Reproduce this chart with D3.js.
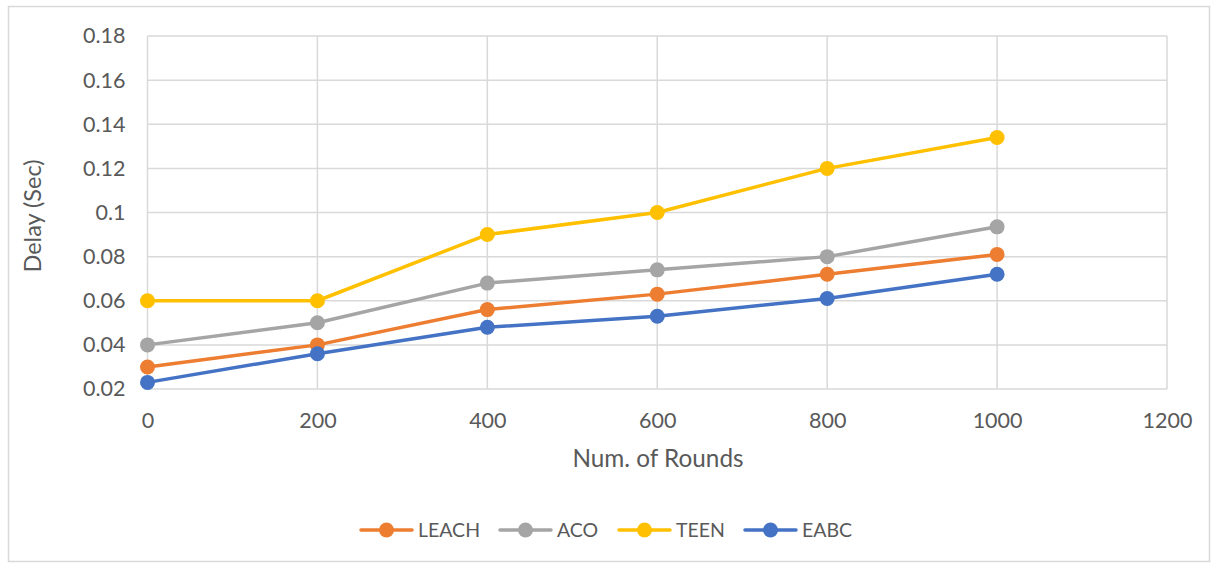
<!DOCTYPE html>
<html><head><meta charset="utf-8">
<script src="https://cdn.jsdelivr.net/npm/d3@7"></script>
<style>body{margin:0;background:#fff}svg{display:block}</style>
</head><body>
<script>
const rounds = [0, 200, 400, 600, 800, 1000];
const seriesNames = ["LEACH", "ACO", "TEEN", "EABC"];
const leach = [0.030, 0.040, 0.056, 0.063, 0.072, 0.081];
const aco   = [0.040, 0.050, 0.068, 0.074, 0.080, 0.0935];
const teen  = [0.060, 0.060, 0.090, 0.100, 0.120, 0.134];
const eabc  = [0.023, 0.036, 0.048, 0.053, 0.061, 0.072];
const xTicks = [0, 200, 400, 600, 800, 1000, 1200];
const yTicks = [0.02, 0.04, 0.06, 0.08, 0.1, 0.12, 0.14, 0.16, 0.18];
const colors = ["#ED7D31", "#A5A5A5", "#FFC000", "#4472C4"];

const W = 1217, H = 564;
const font = "Lato, 'Open Sans', sans-serif";
const svg = d3.select("body").append("svg").attr("width", W).attr("height", H);
svg.append("rect").attr("x", 8.5).attr("y", 6.5).attr("width", 1201).attr("height", 555)
  .attr("fill", "#fff").attr("stroke", "#D9D9D9").attr("stroke-width", 1.5);

const x = d3.scaleLinear().domain([0, 1200]).range([147.5, 1167]);
const y = d3.scaleLinear().domain([0.02, 0.18]).range([389, 36]);

const g = svg.append("g");
g.selectAll(".hg").data(yTicks).join("line")
  .attr("x1", x(0)).attr("x2", x(1200)).attr("y1", d => y(d)).attr("y2", d => y(d))
  .attr("stroke", "#D9D9D9").attr("stroke-width", 1.5);
g.selectAll(".vg").data(xTicks).join("line")
  .attr("y1", y(0.02)).attr("y2", y(0.18)).attr("x1", d => x(d)).attr("x2", d => x(d))
  .attr("stroke", "#D9D9D9").attr("stroke-width", 1.5);

const xAxis = d3.axisBottom(x).tickValues(xTicks).tickSize(0).tickPadding(24).tickFormat(d3.format("d"));
const xa = svg.append("g").attr("transform", `translate(0,${y(0.02)})`).call(xAxis);
xa.select(".domain").remove();
xa.selectAll("text").attr("font-family", font).attr("font-size", 21.5).attr("fill", "#595959");

const yAxis = d3.axisLeft(y).tickValues(yTicks).tickSize(0).tickPadding(22).tickFormat(d => String(+d.toFixed(2)));
const ya = svg.append("g").attr("transform", `translate(${x(0)},0)`).call(yAxis);
ya.select(".domain").remove();
ya.selectAll("text").attr("font-family", font).attr("font-size", 21.5).attr("fill", "#595959");

svg.append("text").attr("x", 658).attr("y", 467).attr("text-anchor", "middle")
  .attr("font-family", font).attr("font-size", 24.3).attr("fill", "#595959").text("Num. of Rounds");
svg.append("text").attr("transform", "translate(41,216) rotate(-90)").attr("text-anchor", "middle")
  .attr("font-family", font).attr("font-size", 23.5).attr("fill", "#595959").text("Delay (Sec)");

const data = [leach, aco, teen, eabc];
const line = d3.line().x((d, i) => x(rounds[i])).y(d => y(d));
data.forEach((s, k) => {
  svg.append("path").attr("d", line(s)).attr("fill", "none").attr("stroke", colors[k])
    .attr("stroke-width", 3.5).attr("stroke-linejoin", "round");
  svg.selectAll(null).data(s).join("circle")
    .attr("cx", (d, i) => x(rounds[i])).attr("cy", d => y(d)).attr("r", 7.5).attr("fill", colors[k]);
});

const legX = [361, 500, 619, 745];
const ly = 530;
seriesNames.forEach((n, k) => {
  const lg = svg.append("g");
  lg.append("line").attr("x1", legX[k]).attr("x2", legX[k] + 51).attr("y1", ly).attr("y2", ly)
    .attr("stroke", colors[k]).attr("stroke-width", 3.5).attr("stroke-linecap", "round");
  lg.append("circle").attr("cx", legX[k] + 25.5).attr("cy", ly).attr("r", 7.5).attr("fill", colors[k]);
  lg.append("text").attr("x", legX[k] + 57).attr("y", ly + 7).attr("font-family", font)
    .attr("font-size", 19.5).attr("fill", "#595959").text(n);
});
</script>
</body></html>
